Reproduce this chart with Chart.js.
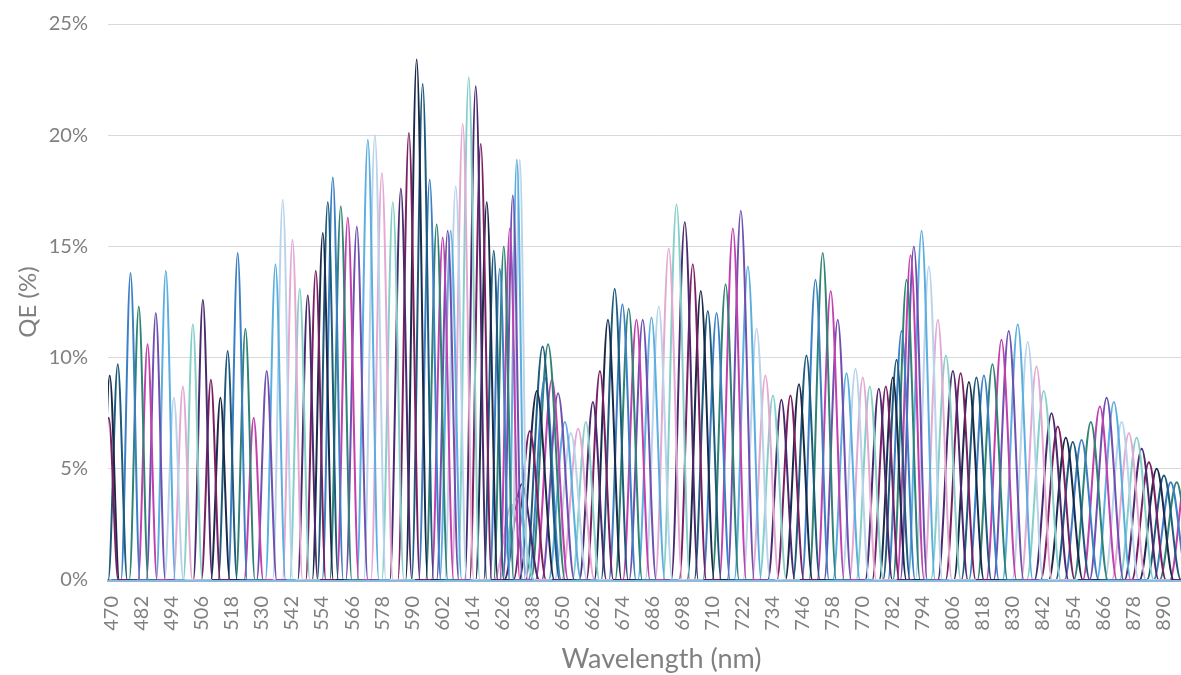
<!DOCTYPE html>
<html>
<head>
<meta charset="utf-8">
<script src="https://cdn.jsdelivr.net/npm/chart.js@4.4.1/dist/chart.umd.min.js"></script>
<style>
html,body{margin:0;padding:0;background:#fff;overflow:hidden}
#wrap{width:1181px;height:675px;overflow:hidden}
</style>
</head>
<body>
<div id="wrap"><canvas id="qeChart" width="1215" height="675"></canvas></div>
<script>
// peak wavelength of each channel (nm)
const peakNm = [
  468.8,469.2,472.4,477.5,480.8,484.3,487.6,491.6,494.8,498.4,
  502.4,506.4,509.6,513.4,516.3,520.3,523.4,526.7,531.9,535.4,
  538.3,542.2,545.1,548.3,551.5,554.3,556.3,558.3,561.5,564.3,
  567.9,572.3,575.1,577.9,582.3,585.5,588.7,591.8,594.2,597.0,
  599.8,602.2,604.2,605.4,607.4,610.2,612.6,615.4,617.4,619.8,
  622.6,625.0,626.6,629.0,630.2,631.8,633.0,
  629.8,631.8,633.8,637.0,639.8,642.1,643.0,644.3,645.8,648.3,651.0,653.4,656.3,
  659.4,662.2,665.0,668.2,670.9,674.0,676.5,679.6,682.1,685.6,
  688.5,692.5,695.6,698.9,702.1,705.3,708.1,711.6,715.2,718.1,
  721.3,724.1,727.6,731.1,734.1,737.5,741.1,744.5,747.5,751.1,
  754.0,757.2,760.0,763.5,767.1,770.0,772.8,776.4,779.2,782.0,
  783.5,785.5,787.5,789.1,790.4,793.5,796.4,800.0,803.2,806.0,
  809.1,812.4,815.4,818.4,821.8,825.4,828.3,831.9,835.9,839.4,
  842.3,845.4,847.9,851.1,853.9,857.4,861.1,864.7,867.4,870.3,
  873.4,876.3,879.4,881.4,884.3,887.4,890.3,893.0,895.4,899.5
];
// peak QE of each channel (%)
const peakQE = [
  7.3,9.2,9.7,13.8,12.3,10.6,12.0,13.9,8.2,8.7,
  11.5,12.6,9.0,8.2,10.3,14.7,11.3,7.3,9.4,14.2,
  17.1,15.3,13.1,12.8,13.9,15.6,17.0,18.1,16.8,16.3,
  15.9,19.8,20.0,18.3,17.0,17.6,20.1,23.4,22.3,18.0,
  16.0,15.4,15.7,15.7,17.7,20.5,22.6,22.2,19.6,17.0,
  14.8,14.0,15.0,15.8,17.3,18.9,18.9,
  3.4,3.7,4.3,6.7,8.5,10.5,9.1,10.6,9.0,8.4,7.1,6.6,6.8,
  7.1,8.0,9.4,11.7,13.1,12.4,12.2,11.7,11.7,11.8,
  12.3,14.9,16.9,16.1,14.2,13.0,12.1,12.0,13.3,15.8,
  16.6,14.1,11.3,9.2,8.3,8.1,8.3,8.8,10.1,13.5,
  14.7,13.0,11.7,9.3,9.5,9.1,8.7,8.6,8.7,9.1,
  9.9,11.2,13.5,14.6,15.0,15.7,14.1,11.7,10.1,9.4,
  9.3,8.9,9.1,9.2,9.7,10.8,11.2,11.5,10.7,9.6,
  8.5,7.5,6.9,6.4,6.2,6.3,7.1,7.8,8.2,8.0,
  7.1,6.6,6.4,5.9,5.3,5.0,4.7,4.4,4.4,5.0
];
// half of the foot-to-foot width of each channel (nm)
const bandNm = [
  3.8,3.8,3.8,3.8,3.8,3.8,3.8,3.8,3.8,3.8,
  3.8,3.8,3.8,3.8,3.8,3.8,3.8,3.8,4.0,4.0,
  4.0,4.0,4.0,4.0,4.0,4.2,4.2,4.2,4.4,4.4,
  4.4,4.4,4.4,4.4,4.4,4.4,4.4,4.4,4.4,4.4,
  4.4,4.4,4.4,4.4,4.4,4.4,4.4,4.4,4.4,4.4,
  4.0,4.0,4.0,4.0,3.8,3.4,3.2,
  7.0,7.0,7.0,6.5,7.0,6.8,6.5,6.8,6.5,6.5,6.5,6.5,6.5,
  5.4,5.4,5.4,5.4,5.4,5.4,5.4,5.4,5.4,5.4,
  5.4,5.4,5.4,5.4,5.4,5.4,5.4,5.4,5.4,5.4,
  5.4,5.4,5.4,5.4,5.4,5.4,5.4,5.4,5.4,5.4,
  5.4,5.4,5.4,5.4,5.4,5.4,5.4,5.4,5.4,5.4,
  5.4,5.4,5.4,5.4,5.4,5.4,5.4,5.6,6.0,6.0,
  6.0,6.0,6.0,6.0,6.0,6.0,6.0,6.0,6.2,6.2,
  6.8,6.8,6.8,6.8,6.8,6.8,6.8,6.8,6.8,6.8,
  6.8,6.8,6.8,6.8,6.8,6.8,6.8,6.8,6.8,6.8
];
const xTicks = [470,482,494,506,518,530,542,554,566,578,590,602,614,626,638,650,662,674,686,698,710,722,734,746,758,770,782,794,806,818,830,842,854,866,878,890];
const yTicks = [0,5,10,15,20,25];

const palette = ['#7b1f63','#1b2a4a','#1d5a7c','#3b7fc4','#2f8374','#c23fae',
                 '#6f4fb0','#5aaee0','#b9d3ea','#e3a9d3','#86cfc8','#4a2a6e'];

// each channel: flat foot, peak, flat foot (monotone curve gives the bell)
const datasets = peakNm.map((c, i) => {
  const w = bandNm[i];
  return {
    data: [
      {x: c - 2*w, y: 0}, {x: c - w, y: 0}, {x: c, y: peakQE[i]},
      {x: c + w, y: 0}, {x: c + 2*w, y: 0}
    ],
    borderColor: palette[i % palette.length],
    borderWidth: 2,
    pointRadius: 0,
    fill: false,
    cubicInterpolationMode: 'monotone'
  };
});

const grey = '#808080';
const font = 'Lato, "Open Sans", sans-serif';

new Chart(document.getElementById('qeChart'), {
  type: 'line',
  data: {datasets},
  options: {
    responsive: false,
    animation: false,
    devicePixelRatio: 1,
    layout: {padding: {top: 24, right: 0, left: 0, bottom: 0}},
    plugins: {legend: {display: false}, tooltip: {enabled: false}},
    scales: {
      x: {
        type: 'linear',
        min: 468.5, max: 910.7,
        z: 1,
        afterBuildTicks: s => { s.ticks = xTicks.map(v => ({value: v})); },
        afterFit: s => { s.height = 95; },
        grid: {display: false},
        border: {display: true, color: '#8db9dc', width: 3},
        ticks: {
          autoSkip: false, maxRotation: 90, minRotation: 90,
          color: grey, padding: 8,
          font: {family: font, size: 20}
        },
        title: {
          display: true, text: 'Wavelength (nm)', color: grey,
          font: {family: font, size: 27}, padding: {top: 0, bottom: 0}
        }
      },
      y: {
        min: 0, max: 25,
        afterBuildTicks: s => { s.ticks = yTicks.map(v => ({value: v})); },
        afterFit: s => { s.width = 108; },
        grid: {color: '#d9d9d9', lineWidth: 1, drawTicks: true, tickLength: 20, tickColor: 'rgba(0,0,0,0)'},
        border: {display: false},
        ticks: {
          color: grey, padding: 0,
          font: {family: font, size: 20},
          callback: v => v + '%'
        },
        title: {
          display: true, text: 'QE (%)', color: grey,
          font: {family: font, size: 24}, padding: {top: 14, bottom: 0}
        }
      }
    }
  }
});
</script>
</body>
</html>
